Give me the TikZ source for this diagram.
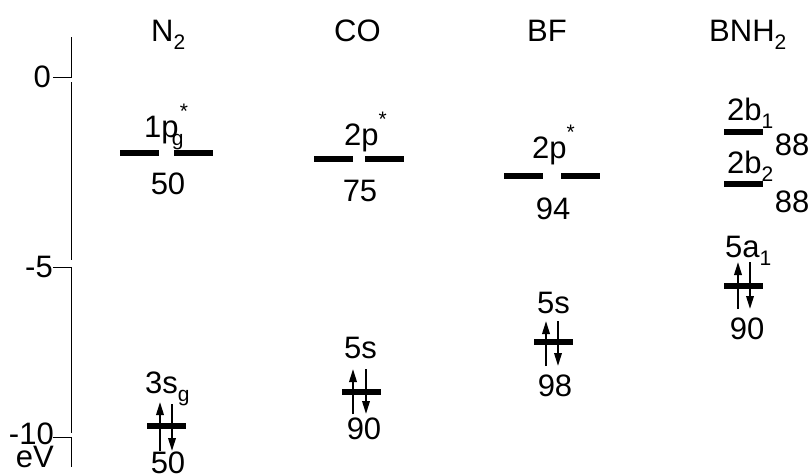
\documentclass[tikz,border=0pt]{standalone}
\usepackage{fontspec}
\setmainfont{Liberation Sans}
\usetikzlibrary{arrows.meta}
\newcommand{\lsb}[1]{\raisebox{-0.28em}{\fontsize{21}{21}\selectfont #1}}
\newcommand{\lsp}[1]{\raisebox{0.6em}{\fontsize{21}{21}\selectfont #1}}
\begin{document}
\begin{tikzpicture}[x=1pt,y=-1pt,
  lbl/.style={inner sep=0pt, font=\fontsize{31}{36}\selectfont},
  lvl/.style={line width=6pt},
  ax/.style={line width=1pt},
  spin/.style={line width=2pt, -{Triangle[length=13pt,width=7.5pt]}}]
\useasboundingbox (0,0) rectangle (812,474);
% axis
\draw[ax] (71,37) -- (71,77) -- (53,77);
\draw[ax] (71,82) -- (71,260);
\draw[ax] (53,267) -- (71,267) -- (71,433);
\draw[ax] (53,437) -- (71,437) -- (71,467);
\node[lbl, anchor=east] (t0) at (51,77) {0};
\node[lbl, anchor=east] (t5) at (53,267) {-5};
\node[lbl, anchor=east] (t10) at (54,434) {-10};
\node[lbl, anchor=east] (ev) at (54,457) {eV};
% headers
\node[lbl, anchor=base west] (hN) at (151,41) {N\lsb{2}};
\node[lbl, anchor=base west] (hC) at (334,41) {CO};
\node[lbl, anchor=base west] (hB) at (527,41) {BF};
\node[lbl, anchor=base west] (hH) at (709,41) {BNH\lsb{2}};
% N2
\draw[lvl] (120,153) -- (159,153);
\draw[lvl] (174,153) -- (213,153);
\node[lbl, anchor=base west] (nPi) at (144,137) {1p\kern-0.22em\rlap{\lsb{g}}\kern8pt\lsp{*}};
\node[lbl, anchor=base] (nPiv) at (168,194) {50};
\draw[lvl] (147,426) -- (186,426);
\draw[spin] (160,451) -- (160,402);
\draw[spin] (172,404) -- (172,451);
\node[lbl, anchor=base west] (nS) at (145,393) {3s\lsb{g}};
\node[lbl, anchor=base] (nSv) at (168,473) {50};
% CO
\draw[lvl] (314,159) -- (353,159);
\draw[lvl] (365,159) -- (404,159);
\node[lbl, anchor=base west] (cPi) at (344,145) {2p\lsp{*}};
\node[lbl, anchor=base] (cPiv) at (360,201) {75};
\draw[lvl] (342,392) -- (381,392);
\draw[spin] (353,414) -- (353,369);
\draw[spin] (366,369) -- (366,414);
\node[lbl, anchor=base west] (cS) at (344,358) {5s};
\node[lbl, anchor=base] (cSv) at (364,439) {90};
% BF
\draw[lvl] (504,176) -- (543,176);
\draw[lvl] (561,176) -- (600,176);
\node[lbl, anchor=base west] (bPi) at (532,158) {2p\lsp{*}};
\node[lbl, anchor=base] (bPiv) at (553,219) {94};
\draw[lvl] (534,342) -- (573,342);
\draw[spin] (546,366) -- (546,321);
\draw[spin] (558,321) -- (558,366);
\node[lbl, anchor=base west] (bS) at (537,313) {5s};
\node[lbl, anchor=base] (bSv) at (555,396) {98};
% BNH2
\draw[lvl] (724,132) -- (763,132);
\node[lbl, anchor=base west] (hB1) at (727,120) {2b\lsb{1}};
\node[lbl, anchor=base] (hB1v) at (792,155) {88};
\draw[lvl] (724,184) -- (763,184);
\node[lbl, anchor=base west] (hB2) at (727,173) {2b\lsb{2}};
\node[lbl, anchor=base] (hB2v) at (792,212) {88};
\draw[lvl] (724,286) -- (763,286);
\draw[spin] (738,309) -- (738,262);
\draw[spin] (750,262) -- (750,309);
\node[lbl, anchor=base west] (hA) at (725,257) {5a\lsb{1}};
\node[lbl, anchor=base] (hAv) at (747,339) {90};
\end{tikzpicture}
\end{document}
